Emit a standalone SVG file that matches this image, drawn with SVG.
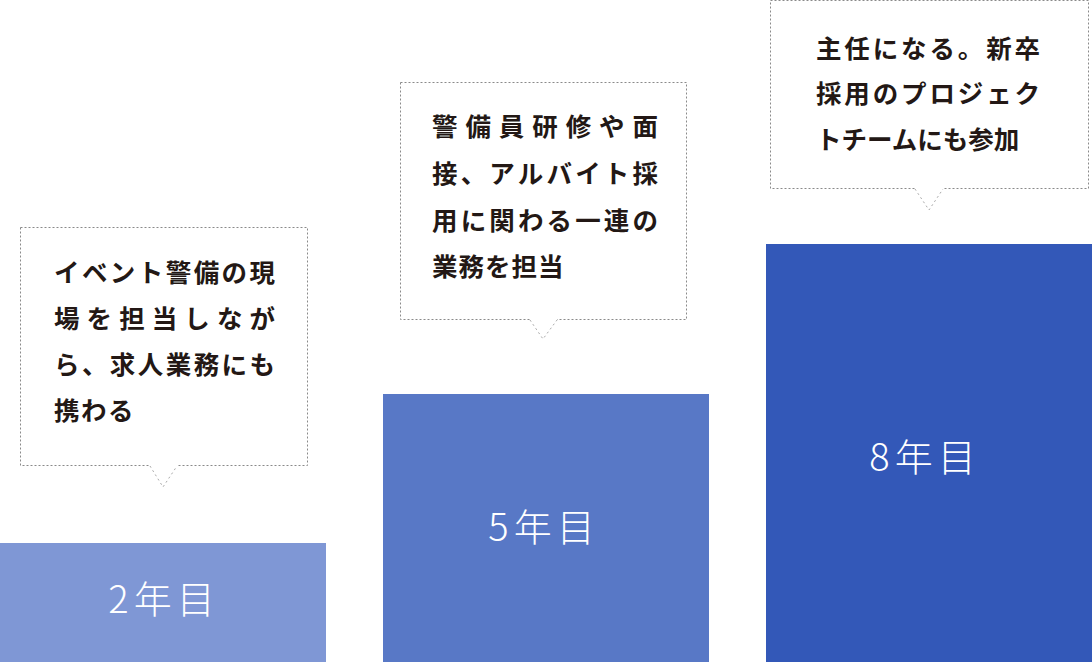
<svg xmlns="http://www.w3.org/2000/svg" width="1092" height="662" viewBox="0 0 1092 662">
<style>
.box{fill:#fff;stroke:#8a8a8a;stroke-width:1;stroke-dasharray:2 2}
.tail{fill:none;stroke:#aaa;stroke-width:1;stroke-dasharray:2 3}
.t{font-family:"Noto Sans CJK JP","Noto Sans",sans-serif;font-weight:700;font-size:25.5px;fill:#231815}
.lab{font-family:"Noto Sans CJK JP","Noto Sans",sans-serif;font-weight:300;font-size:38px;fill:#fff;text-anchor:middle;letter-spacing:5px}
</style>
<rect width="1092" height="662" fill="#fff"/>
<g id="callout-2">
<rect class="box" x="20.5" y="227.5" width="287" height="238"/>
<line x1="150" y1="465.5" x2="177" y2="465.5" stroke="#fff" stroke-width="3"/>
<polyline class="tail" points="150,466 163,487 177,466"/>
<text class="t" x="54" y="282" textLength="221" lengthAdjust="spacing">イベント警備の現</text>
<text class="t" x="54" y="328" textLength="221" lengthAdjust="spacing">場を担当しなが</text>
<text class="t" x="54" y="374" textLength="221" lengthAdjust="spacing">ら、求人業務にも</text>
<text class="t" x="54" y="420" letter-spacing="1.5">携わる</text>
</g>
<g id="callout-5">
<rect class="box" x="400.5" y="82.5" width="286" height="237"/>
<line x1="530" y1="319.5" x2="557" y2="319.5" stroke="#fff" stroke-width="3"/>
<polyline class="tail" points="530,320 543,339 557,320"/>
<text class="t" x="432" y="136" textLength="226" lengthAdjust="spacing">警備員研修や面</text>
<text class="t" x="432" y="183" textLength="226" lengthAdjust="spacing">接、アルバイト採</text>
<text class="t" x="432" y="230" textLength="226" lengthAdjust="spacing">用に関わる一連の</text>
<text class="t" x="432" y="276" letter-spacing="1">業務を担当</text>
</g>
<g id="callout-8">
<rect class="box" x="770.5" y="0.5" width="318" height="188"/>
<line x1="915" y1="188.5" x2="943" y2="188.5" stroke="#fff" stroke-width="3"/>
<polyline class="tail" points="915,189 929,210 943,189"/>
<text class="t" x="816" y="58" textLength="224" lengthAdjust="spacing">主任になる。新卒</text>
<text class="t" x="816" y="103" textLength="224" lengthAdjust="spacing">採用のプロジェク</text>
<text class="t" x="816" y="149" letter-spacing="0">トチームにも参加</text>
</g>
<g id="bar-2">
<rect x="0" y="543" width="326" height="119" fill="#7f97d5"/>
<text class="lab" x="164" y="613">2年目</text>
</g>
<g id="bar-5">
<rect x="383" y="394" width="326" height="268" fill="#5878c6"/>
<text class="lab" x="544" y="541">5年目</text>
</g>
<g id="bar-8">
<rect x="766" y="244" width="326" height="418" fill="#3358b8"/>
<text class="lab" x="925" y="471">8年目</text>
</g>
<g id="connectors"></g>
</svg>
